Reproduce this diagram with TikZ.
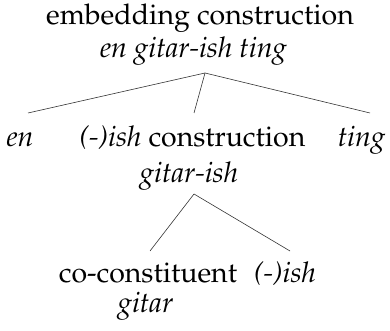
\documentclass[tikz,border=0pt]{standalone}
\usepackage[T1]{fontenc}
\usepackage{mathpazo}
\begin{document}
\begin{tikzpicture}[x=1pt,y=1pt,
  lbl/.style={anchor=base,inner sep=0pt,font=\fontsize{28.5}{33}\selectfont},
  branch/.style={draw=black!80,line width=0.6pt}]
\useasboundingbox (0,0) rectangle (390,331);
\node[lbl] (top1) at (200,306) {embedding construction};
\node[lbl] (top2) at (193.5,273) {\textit{en gitar-ish ting}};
\node[lbl] (en) at (20,184) {\textit{en}};
\node[lbl] (ishc) at (192.5,184) {\textit{(-)ish} construction};
\node[lbl] (ting) at (361.5,184) {\textit{ting}};
\node[lbl] (gish) at (189,148) {\textit{gitar-ish}};
\node[lbl] (cocon) at (148,48) {co-constituent};
\node[lbl] (ish) at (285,48) {\textit{(-)ish}};
\node[lbl] (gitar) at (145.5,18) {\textit{gitar}};
\coordinate (apexA) at (205,258);
\coordinate (endEn) at (28,218);
\coordinate (endIsh) at (194,218);
\coordinate (endTing) at (370,218);
\coordinate (apexB) at (194,137);
\coordinate (endCo) at (150,80);
\coordinate (endI) at (290,80);
\draw[branch] (apexA) -- (endEn);
\draw[branch] (apexA) -- (endIsh);
\draw[branch] (apexA) -- (endTing);
\draw[branch] (apexB) -- (endCo);
\draw[branch] (apexB) -- (endI);
\end{tikzpicture}
\end{document}
